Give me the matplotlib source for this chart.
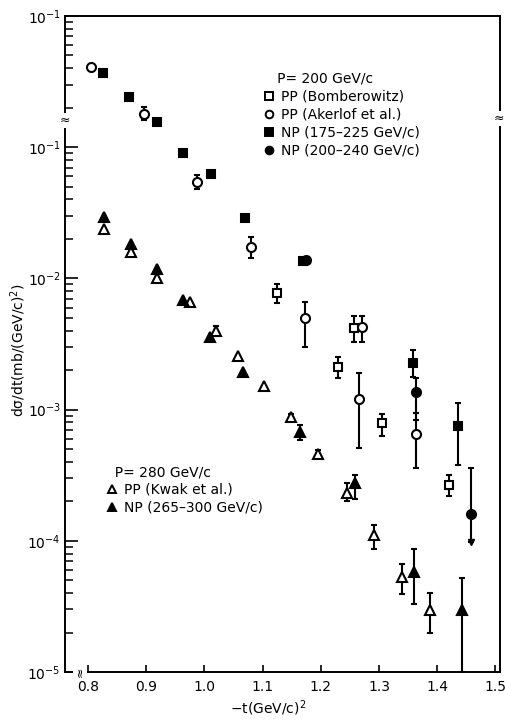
import numpy as np
import matplotlib
matplotlib.use('Agg')
import matplotlib.pyplot as plt
import matplotlib.transforms as mtransforms
from matplotlib.lines import Line2D
from matplotlib.ticker import FixedLocator, NullFormatter

plt.rcParams['font.family'] = ['DejaVu Sans']
plt.rcParams['mathtext.fontset'] = 'dejavusans'

nan = np.nan

# ---- P = 200 GeV/c ----
# PP (Bomberowitz) - open squares
pp_bomb_t = [1.125, 1.230, 1.257, 1.305, 1.420]
pp_bomb_v = [7.7e-3, 2.1e-3, 4.2e-3, 7.9e-4, 2.65e-4]
pp_bomb_lo = [6.5e-3, 1.73e-3, 3.3e-3, 6.3e-4, 2.2e-4]
pp_bomb_hi = [9.0e-3, 2.5e-3, 5.2e-3, 9.2e-4, 3.2e-4]

# PP (Akerlof et al.) - open circles
pp_aker_t = [0.805, 0.896, 0.987, 1.080, 1.173, 1.266, 1.271, 1.364]
pp_aker_v = [0.41, 0.18, 0.054, 0.0173, 5.0e-3, 1.2e-3, 4.25e-3, 6.5e-4]
pp_aker_lo = [nan, 0.161, 0.048, 0.0143, 3.0e-3, 5.1e-4, 3.3e-3, 3.6e-4]
pp_aker_hi = [nan, 0.202, 0.061, 0.0206, 6.6e-3, 1.9e-3, 5.2e-3, 9.5e-4]

# NP (175-225 GeV/c) - filled squares
np_a_t = [0.826, 0.870, 0.919, 0.963, 1.011, 1.070, 1.170, 1.358, 1.436]
np_a_v = [0.366, 0.24, 0.155, 0.090, 0.062, 0.0288, 0.0135, 2.26e-3, 7.5e-4]
np_a_lo = [nan, nan, nan, nan, nan, nan, nan, 1.77e-3, 3.8e-4]
np_a_hi = [nan, nan, nan, nan, nan, nan, nan, 2.84e-3, 1.12e-3]

# NP (200-240 GeV/c) - filled circles
np_b_t = [1.175, 1.364, 1.458]
np_b_v = [0.0138, 1.36e-3, 1.6e-4]
np_b_lo = [nan, 8.3e-4, 9.8e-5]
np_b_hi = [nan, 1.74e-3, 3.6e-4]

# ---- P = 280 GeV/c ----
# PP (Kwak et al.) - open triangles
pp_kwak_t = [0.827, 0.874, 0.919, 0.975, 1.020, 1.058, 1.102, 1.149, 1.195,
             1.245, 1.291, 1.340, 1.388]
pp_kwak_v = [0.0237, 0.0158, 0.0100, 6.6e-3, 3.96e-3, 2.55e-3, 1.51e-3, 8.75e-4,
             4.57e-4, 2.31e-4, 1.10e-4, 5.3e-5, 2.96e-5]
pp_kwak_lo = [nan, nan, nan, nan, 3.63e-3, nan, nan, 8.2e-4, 4.25e-4, 2.0e-4,
              8.6e-5, 3.9e-5, 2.0e-5]
pp_kwak_hi = [nan, nan, nan, nan, 4.32e-3, nan, nan, 9.3e-4, 4.95e-4, 2.75e-4,
              1.31e-4, 6.7e-5, 4.0e-5]

# NP (265-300 GeV/c) - filled triangles
np_c_t = [0.827, 0.874, 0.919, 0.963, 1.010, 1.066, 1.164, 1.259, 1.360, 1.443]
np_c_v = [0.0292, 0.0182, 0.0118, 6.9e-3, 3.56e-3, 1.93e-3, 6.8e-4, 2.75e-4,
          5.8e-5, 2.96e-5]
np_c_lo = [nan, nan, nan, nan, nan, nan, 5.85e-4, 2.07e-4, 3.3e-5, 1.0e-5]
np_c_hi = [nan, nan, nan, nan, nan, nan, 7.6e-4, 3.16e-4, 8.6e-5, 5.2e-5]

x_ticks = [0.8, 0.9, 1.0, 1.1, 1.2, 1.3, 1.4, 1.5]
x_labels = ['0.8', '0.9', '1.0', '1.1', '1.2', '1.3', '1.4', '1.5']
y_ticks = [1e-5, 1e-4, 1e-3, 1e-2, 1e-1, 1.0]
y_labels = ['$10^{-5}$', '$10^{-4}$', '$10^{-3}$', '$10^{-2}$', '$10^{-1}$', '$10^{-1}$']

W, H = 505, 726
fig = plt.figure(figsize=(W / 100, H / 100), dpi=100)
ax = fig.add_axes([65 / W, 1 - 672 / H, 435 / W, 656 / H])
ax.set_yscale('log')
ax.set_xlim(0.7605, 1.508)
ax.set_ylim(1e-5, 1.0)


def draw_series(t, v, lo, hi, marker, face, ms):
    t, v, lo, hi = map(np.asarray, (t, v, lo, hi))
    has = ~np.isnan(lo)
    if has.any():
        ax.errorbar(t[has], v[has], yerr=[v[has] - lo[has], hi[has] - v[has]],
                    fmt='none', ecolor='k', elinewidth=1.5, capsize=2.4,
                    capthick=1.5, zorder=2)
    ax.plot(t, v, ls='none', marker=marker, mfc=face, mec='k', mew=1.5,
            ms=ms, zorder=3)


draw_series(pp_bomb_t, pp_bomb_v, pp_bomb_lo, pp_bomb_hi, 's', 'white', 6)
draw_series(pp_aker_t, pp_aker_v, pp_aker_lo, pp_aker_hi, 'o', 'white', 6.5)
draw_series(np_a_t, np_a_v, np_a_lo, np_a_hi, 's', 'black', 6)
draw_series(np_b_t, np_b_v, np_b_lo, np_b_hi, 'o', 'black', 6.5)
draw_series(pp_kwak_t, pp_kwak_v, pp_kwak_lo, pp_kwak_hi, '^', 'white', 6.5)
draw_series(np_c_t, np_c_v, np_c_lo, np_c_hi, '^', 'black', 6.5)

# upper-limit arrow on the last NP (200-240) point
ax.plot(np_b_t[-1], np_b_lo[-1], ls='none', marker='v', color='k', ms=5, zorder=3)

# axes styling
for side in ['left', 'bottom', 'top', 'right']:
    ax.spines[side].set_linewidth(1.4)
ax.xaxis.set_major_locator(FixedLocator(x_ticks))
ax.set_xticklabels(x_labels)
ax.yaxis.set_major_locator(FixedLocator(y_ticks))
ax.set_yticklabels(y_labels)
minors = [m * 10.0 ** e for e in range(-5, 0) for m in range(2, 10)]
ax.yaxis.set_minor_locator(FixedLocator(minors))
ax.yaxis.set_minor_formatter(NullFormatter())
ax.xaxis.set_minor_locator(FixedLocator([]))
ax.tick_params(axis='y', which='major', direction='in', length=9, width=1.2,
               labelsize=10, pad=3, right=False)
ax.tick_params(axis='y', which='minor', direction='in', length=5.5, width=1.1,
               right=False)
ax.tick_params(axis='x', which='major', direction='in', length=5, width=1.2,
               labelsize=10, pad=6, top=False)

ax.set_xlabel('\u2212t(GeV/c)$^2$', fontsize=10)
ax.xaxis.set_label_coords((268 - 65) / 435, (672 - 698) / 656)
ax.set_ylabel('d\u03c3/dt(mb/(GeV/c)$^2$)', fontsize=10)
ax.yaxis.set_label_coords((28 - 65) / 435, (672 - 350) / 656)

# axis breaks
ty = mtransforms.blended_transform_factory(ax.transAxes, ax.transData)
tx = mtransforms.blended_transform_factory(ax.transData, ax.transAxes)
brk = dict(fontsize=9, ha='center', va='center', zorder=5,
           bbox=dict(fc='white', ec='none', pad=0.5))
ax.text(0, 0.16, '\u2248', transform=ty, clip_on=False, **brk)
ax.text(0.997, 0.165, '\u2248', transform=ty, clip_on=False, **brk)
ax.text(0.786, 0, '\u2248', transform=tx, rotation=90, clip_on=False, **brk)


# legends
def handle(marker, face):
    return Line2D([], [], ls='none', marker=marker, mfc=face, mec='k', mew=1.4, ms=5.5)


leg_kw = dict(loc='upper left', bbox_transform=fig.transFigure, frameon=False,
              handlelength=0.8, handletextpad=0.45, borderpad=0, borderaxespad=0,
              labelspacing=0.28, fontsize=10, title_fontsize=10, alignment='left')
leg1 = ax.legend([handle('s', 'white'), handle('o', 'white'),
                  handle('s', 'black'), handle('o', 'black')],
                 ['PP (Bomberowitz)', 'PP (Akerlof et al.)',
                  'NP (175\u2013225 GeV/c)', 'NP (200\u2013240 GeV/c)'],
                 title='   P= 200 GeV/c',
                 bbox_to_anchor=(263.5 / W, 1 - 72 / H), **leg_kw)
ax.add_artist(leg1)
ax.legend([handle('^', 'white'), handle('^', 'black')],
          ['PP (Kwak et al.)', 'NP (265\u2013300 GeV/c)'],
          title='  P= 280 GeV/c',
          bbox_to_anchor=(106.5 / W, 1 - 465 / H), **leg_kw)

fig.savefig('out.png', dpi=100)
